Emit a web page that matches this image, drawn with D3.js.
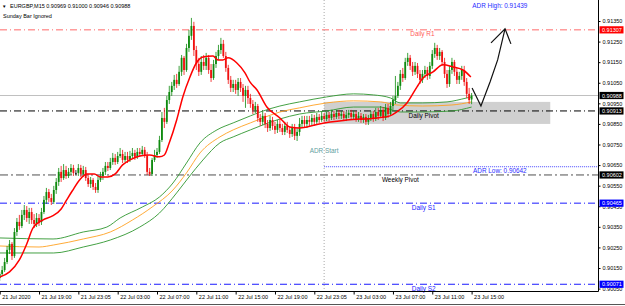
<!DOCTYPE html>
<html>
<head>
<meta charset="utf-8">
<script src="https://cdn.jsdelivr.net/npm/d3@7"></script>
<style>
  body { margin: 0; background: #fff; }
  svg { display: block; font-family: "Liberation Sans", Arial, sans-serif; }
</style>
</head>
<body>
<svg id="chart" width="625" height="306"></svg>
<script>
var symbol = "EURGBP,M15";
var note = "Sunday Bar Ignored";

// M15 bars, [open, high, low, close]
var candles = [
  [.90101,.90131,.90087,.90121],[.90121,.90160,.90111,.90140],[.90140,.90199,.90131,.90179],[.90179,.90257,.90169,.90238],
  [.90238,.90286,.90218,.90267],[.90267,.90276,.90189,.90208],[.90208,.90344,.90199,.90325],[.90325,.90393,.90306,.90374],
  [.90374,.90408,.90335,.90354],[.90354,.90432,.90344,.90408],[.90408,.90456,.90383,.90432],[.90432,.90451,.90374,.90393],
  [.90393,.90442,.90364,.90422],[.90422,.90442,.90364,.90383],[.90383,.90412,.90344,.90364],[.90364,.90417,.90349,.90393],
  [.90393,.90412,.90354,.90374],[.90374,.90442,.90359,.90422],[.90422,.90500,.90412,.90481],[.90481,.90539,.90461,.90519],
  [.90519,.90534,.90471,.90490],[.90490,.90510,.90456,.90471],[.90471,.90549,.90461,.90529],[.90529,.90587,.90510,.90568],
  [.90568,.90636,.90549,.90617],[.90617,.90646,.90568,.90587],[.90587,.90655,.90578,.90626],[.90626,.90646,.90583,.90597],
  [.90597,.90636,.90587,.90617],[.90617,.90655,.90602,.90636],[.90636,.90651,.90597,.90612],[.90612,.90626,.90602,.90612],
  [.90612,.90655,.90597,.90636],[.90636,.90651,.90592,.90607],[.90607,.90646,.90592,.90626],[.90626,.90641,.90573,.90587],
  [.90587,.90607,.90544,.90558],[.90558,.90592,.90539,.90578],[.90578,.90587,.90529,.90544],[.90544,.90563,.90515,.90529],
  [.90529,.90597,.90515,.90578],[.90578,.90617,.90568,.90597],[.90597,.90636,.90578,.90617],[.90617,.90665,.90602,.90646],
  [.90646,.90665,.90621,.90636],[.90636,.90685,.90626,.90665],[.90665,.90709,.90651,.90685],[.90685,.90704,.90651,.90665],
  [.90665,.90714,.90655,.90694],[.90694,.90733,.90685,.90704],[.90704,.90724,.90660,.90675],[.90675,.90714,.90665,.90694],
  [.90694,.90714,.90660,.90675],[.90675,.90719,.90665,.90694],[.90694,.90733,.90680,.90709],[.90709,.90724,.90675,.90690],
  [.90690,.90733,.90680,.90714],[.90714,.90733,.90690,.90704],[.90704,.90743,.90694,.90724],[.90724,.90738,.90685,.90694],
  [.90694,.90714,.90602,.90617],[.90617,.90636,.90597,.90607],[.90607,.90685,.90597,.90675],[.90675,.90724,.90665,.90699],
  [.90699,.90733,.90685,.90714],[.90714,.90792,.90704,.90772],[.90772,.90908,.90762,.90879],[.90879,.90928,.90830,.90860],
  [.90860,.90986,.90850,.90966],[.90966,.91035,.90947,.91005],[.91005,.91054,.90986,.91035],[.91035,.91088,.91015,.91064],
  [.91064,.91093,.91025,.91044],[.91044,.91132,.91035,.91103],[.91103,.91185,.91083,.91171],[.91171,.91180,.91088,.91112],
  [.91112,.91239,.91103,.91219],[.91219,.91307,.91200,.91278],[.91278,.91365,.91258,.91326],[.91326,.91346,.91180,.91209],
  [.91209,.91229,.91112,.91141],[.91141,.91171,.91083,.91103],[.91103,.91180,.91088,.91151],[.91151,.91185,.91112,.91132],
  [.91132,.91195,.91112,.91171],[.91171,.91185,.91093,.91112],[.91112,.91141,.91054,.91073],[.91073,.91161,.91064,.91141],
  [.91141,.91200,.91122,.91180],[.91180,.91234,.91161,.91209],[.91209,.91268,.91190,.91239],[.91239,.91258,.91171,.91180],
  [.91180,.91200,.91103,.91122],[.91122,.91137,.91044,.91064],[.91064,.91083,.91005,.91025],[.91025,.91064,.91005,.91044],
  [.91044,.91064,.90996,.91015],[.91015,.91073,.90986,.91054],[.91054,.91073,.91005,.91025],[.91025,.91044,.90957,.90986],
  [.90986,.91035,.90928,.91015],[.91015,.91035,.90947,.90976],[.90976,.90996,.90928,.90947],[.90947,.90966,.90898,.90918],
  [.90918,.90957,.90903,.90937],[.90937,.90947,.90860,.90879],[.90879,.90898,.90840,.90860],[.90860,.90908,.90845,.90889],
  [.90889,.90903,.90830,.90850],[.90850,.90869,.90811,.90830],[.90830,.90889,.90816,.90869],[.90869,.90884,.90821,.90840],
  [.90840,.90860,.90801,.90821],[.90821,.90869,.90806,.90850],[.90850,.90874,.90811,.90830],[.90830,.90850,.90796,.90811],
  [.90811,.90860,.90796,.90840],[.90840,.90860,.90806,.90821],[.90821,.90835,.90782,.90801],[.90801,.90850,.90787,.90830],
  [.90830,.90850,.90772,.90792],[.90792,.90830,.90767,.90811],[.90811,.90879,.90792,.90850],[.90850,.90889,.90835,.90869],
  [.90869,.90889,.90835,.90850],[.90850,.90889,.90830,.90869],[.90869,.90889,.90840,.90860],[.90860,.90898,.90845,.90879],
  [.90879,.90894,.90840,.90860],[.90860,.90903,.90850,.90884],[.90884,.90898,.90855,.90869],[.90869,.90908,.90860,.90889],
  [.90889,.90903,.90860,.90874],[.90874,.90908,.90864,.90894],[.90894,.90908,.90864,.90879],[.90879,.90918,.90869,.90898],
  [.90898,.90913,.90869,.90884],[.90884,.90918,.90874,.90903],[.90903,.90918,.90874,.90889],[.90889,.90913,.90874,.90898],
  [.90898,.90913,.90864,.90879],[.90879,.90908,.90864,.90894],[.90894,.90918,.90879,.90903],[.90903,.90918,.90869,.90884],
  [.90884,.90913,.90869,.90898],[.90898,.90913,.90860,.90874],[.90874,.90908,.90860,.90889],[.90889,.90903,.90855,.90869],
  [.90869,.90898,.90855,.90884],[.90884,.90898,.90845,.90860],[.90860,.90894,.90845,.90879],[.90879,.90913,.90864,.90898],
  [.90898,.90913,.90860,.90874],[.90874,.90928,.90864,.90908],[.90908,.90928,.90869,.90889],[.90889,.90937,.90879,.90918],
  [.90918,.90932,.90864,.90879],[.90879,.90947,.90869,.90928],[.90928,.90947,.90879,.90898],[.90898,.90957,.90889,.90937],
  [.90937,.90986,.90918,.90966],[.90966,.91083,.90947,.90986],[.90986,.91054,.90976,.91035],[.91035,.91112,.91015,.91093],
  [.91093,.91122,.91054,.91073],[.91073,.91171,.91064,.91151],[.91151,.91195,.91132,.91171],[.91171,.91185,.91112,.91132],
  [.91132,.91151,.91083,.91103],[.91103,.91151,.91088,.91132],[.91132,.91146,.91073,.91093],[.91093,.91112,.91044,.91064],
  [.91064,.91112,.91049,.91093],[.91093,.91132,.91073,.91112],[.91112,.91127,.91064,.91083],[.91083,.91151,.91069,.91132],
  [.91132,.91209,.91117,.91190],[.91190,.91244,.91171,.91219],[.91219,.91234,.91161,.91180],[.91180,.91219,.91161,.91200],
  [.91200,.91209,.91132,.91151],[.91151,.91171,.91073,.91093],[.91093,.91112,.91025,.91044],[.91044,.91132,.91030,.91112],
  [.91112,.91171,.91093,.91151],[.91151,.91161,.91083,.91103],[.91103,.91122,.91044,.91064],[.91064,.91103,.91044,.91083],
  [.91083,.91132,.91064,.91112],[.91112,.91132,.91035,.91054],[.91054,.91073,.90976,.90996],[.90996,.91025,.90947,.90966],
  [.90969,.91000,.90946,.90988]
];

// fast moving average (red), [bar, price]
var maFast = [[0,.90106],[4,.90131],[8,.90189],[11,.90267],[13.5,.90344],[17.5,.90383],[21.5,.90403],[25,.90437],
  [27,.90476],[29.5,.90524],[32.5,.90578],[35.5,.90607],[38.5,.90607],[41,.90592],[44,.90592],[47,.90607],[50,.90651],
  [53,.90675],[57,.90694],[61,.90699],[65,.90690],[67,.90699],[69,.90758],[72,.90869],[74.5,.90981],[77.4,.91078],
  [80,.91146],[82.7,.91175],[86.8,.91180],[88.8,.91161],[90.8,.91161],[92.9,.91171],[96.5,.91146],[99.8,.91098],
  [101.8,.91054],[104.7,.91015],[108.7,.90932],[114,.90879],[118,.90835],[122,.90830],[125,.90835],[130,.90850],
  [141.3,.90869],[153.5,.90879],[158.8,.90889],[161.6,.90908],[165.7,.90952],[169.8,.91030],[172.2,.91073],
  [176.3,.91103],[180.3,.91137],[184.4,.91127],[188.5,.91112],[191.7,.91078]];

// slow average band: upper / middle / lower
var bandUpper = [[0,.90296],[21.7,.90291],[34,.90325],[43.6,.90349],[49,.90393],[58,.90446],[65,.90495],[70.5,.90563],
  [76,.90660],[81.5,.90758],[88.4,.90821],[95,.90855],[102,.90889],[106,.90908],[114,.90937],[122,.90957],[133,.90981],
  [144,.90996],[152,.90991],[159,.90976],[163,.90952],[172,.90952],[182,.90957],[190,.90976],[192,.90981]];
var bandMid = [[0,.90257],[16,.90252],[22,.90262],[34,.90291],[45,.90325],[54,.90383],[62,.90446],[70.5,.90529],
  [76,.90612],[81.5,.90709],[89.6,.90787],[95,.90821],[102,.90855],[106,.90874],[114,.90908],[122,.90928],[133,.90952],
  [144,.90962],[155,.90957],[161.6,.90942],[172,.90937],[184,.90942],[192,.90957]];
var bandLower = [[0,.90223],[22,.90223],[34,.90252],[45,.90286],[57,.90349],[65,.90417],[72,.90515],[77,.90592],
  [82.7,.90675],[89.6,.90758],[95,.90787],[102,.90821],[106,.90840],[114,.90874],[122,.90898],[133,.90913],[144,.90932],
  [155,.90932],[163,.90908],[172,.90908],[184,.90913],[192,.90932]];

var timeLabels = [[0,"21 Jul 2020"],[16,"21 Jul 19:00"],[32,"21 Jul 23:05"],[48,"22 Jul 03:00"],[64,"22 Jul 07:00"],
  [80,"22 Jul 11:00"],[96,"22 Jul 15:00"],[112,"22 Jul 19:00"],[128,"22 Jul 23:05"],[144,"23 Jul 03:00"],
  [160,"23 Jul 07:00"],[176,"23 Jul 11:00"],[192,"23 Jul 15:00"]];
var priceTicks = [0.9005,0.9015,0.9025,0.9035,0.9045,0.9055,0.9065,0.9075,0.9085,0.9095,0.9105,0.9115,0.9125,0.9135];

var levels = [
  {name:"Daily R1", price:0.91307, kind:"res"},
  {name:"Daily Pivot", price:0.90913, kind:"piv"},
  {name:"Weekly Pivot", price:0.90602, kind:"wpiv"},
  {name:"Daily S1", price:0.90465, kind:"sup"},
  {name:"Daily S2", price:0.90071, kind:"sup"}
];
var adrHigh = 0.91439, adrLow = 0.90642, adrStartBar = 132;
var zoneBars = [132, 224], zonePrices = [0.90850, 0.90957];
// hand drawn arrow, [bar, price]
var arrowPts = [[192.2,.91025],[195.8,.90937],[199.5,.91054],[202.6,.91161],[205.6,.91312]];
var arrowHead = [[199.9,.91244],[205.6,.91312],[208,.91239]];

var svg = d3.select("#chart"),
    right = 598.5, bottom = 291.5,
    upCol = "#0f8a0f", dnCol = "#f01010";

var x = d3.scaleLinear().domain([0, candles.length - 1]).range([-0.3, 471.6]);
var y = d3.scaleLinear().domain([0.9015, 0.9135]).range([268, 21]);

var plot = svg.append("g");
plot.append("clipPath").attr("id", "clip")
  .append("rect").attr("width", right).attr("height", bottom);
var clip = plot.append("g").attr("clip-path", "url(#clip)");

// grey zone
clip.append("rect")
  .attr("x", x(zoneBars[0])).attr("width", x(zoneBars[1]) - x(zoneBars[0]))
  .attr("y", y(zonePrices[1])).attr("height", y(zonePrices[0]) - y(zonePrices[1]))
  .attr("fill", "#d0d0d0");

// bid line
clip.append("line").attr("x1", 0).attr("x2", right)
  .attr("y1", y(candles[candles.length - 1][3])).attr("y2", y(candles[candles.length - 1][3]))
  .attr("stroke", "#c0c0c0").attr("stroke-width", 1);

var lvlColor = {res: "#ff6a6a", piv: "#000", wpiv: "#505050", sup: "#1a1aff"};
clip.selectAll(".lvl").data(levels).enter().append("line")
  .attr("x1", 0).attr("x2", right)
  .attr("y1", d => y(d.price)).attr("y2", d => y(d.price))
  .attr("stroke", d => lvlColor[d.kind]).attr("stroke-width", 1)
  .attr("stroke-dasharray", d => d.kind == "wpiv" ? "8,3,2,3" : "7,3,1,3");

// ADR
clip.append("line").attr("x1", x(adrStartBar)).attr("x2", right)
  .attr("y1", y(adrLow)).attr("y2", y(adrLow))
  .attr("stroke", "#4848ff").attr("stroke-dasharray", "1,1");
clip.append("line").attr("x1", x(adrStartBar)).attr("x2", x(adrStartBar))
  .attr("y1", 0).attr("y2", bottom)
  .attr("stroke", "#a8a8a8").attr("stroke-dasharray", "1,2");

// band + averages
function ln(pts) {
  return d3.line().x(d => x(d[0])).y(d => y(d[1])).curve(d3.curveMonotoneX)(pts);
}
clip.append("path").attr("d", ln(bandUpper)).attr("fill", "none").attr("stroke", "#2f962f").attr("stroke-width", 0.9);
clip.append("path").attr("d", ln(bandLower)).attr("fill", "none").attr("stroke", "#2f962f").attr("stroke-width", 0.9);
clip.append("path").attr("d", ln(bandMid)).attr("fill", "none").attr("stroke", "#ffa020").attr("stroke-width", 0.9);

// candles
var cg = clip.append("g");
cg.selectAll(".wick").data(candles).enter().append("line")
  .attr("x1", (d, i) => x(i)).attr("x2", (d, i) => x(i))
  .attr("y1", d => y(d[1])).attr("y2", d => y(d[2]))
  .attr("stroke", d => d[3] > d[0] ? upCol : d[3] < d[0] ? dnCol : "#000")
  .attr("stroke-width", 0.8);
cg.selectAll(".body").data(candles).enter().append("rect")
  .attr("x", (d, i) => x(i) - 0.9).attr("width", 1.8)
  .attr("y", d => y(Math.max(d[0], d[3])))
  .attr("height", d => Math.max(0.8, Math.abs(y(d[0]) - y(d[3]))))
  .attr("fill", d => d[3] > d[0] ? upCol : d[3] < d[0] ? dnCol : "#000");

clip.append("path").attr("d", ln(maFast)).attr("fill", "none").attr("stroke", "#ff0000").attr("stroke-width", 1.5);

// arrow
var al = d3.line().x(d => x(d[0])).y(d => y(d[1]));
clip.append("path").attr("d", al(arrowPts)).attr("fill", "none").attr("stroke", "#111").attr("stroke-width", 1.2);
clip.append("path").attr("d", al(arrowHead)).attr("fill", "none").attr("stroke", "#111").attr("stroke-width", 1.2);

// labels
var lblFont = 6.4;
function label(txt, px, py, col) {
  svg.append("text").attr("x", px).attr("y", py).attr("text-anchor", "middle")
    .attr("font-size", lblFont).attr("fill", col).text(txt);
}
var labelBar = {res: 172, piv: 172.5, wpiv: 163, sup: 172.5};
levels.forEach(function(d) {
  var c = d.kind == "wpiv" ? "#000" : d.kind == "res" ? "#ff5a5a" : lvlColor[d.kind];
  label(d.name, x(labelBar[d.kind]), y(d.price) + 6.6, c);
});
label("ADR High: " + adrHigh.toFixed(5), x(203.5), 8, "#2a2aff");
label("ADR Low: " + adrLow.toFixed(5), x(203.5), y(adrLow) + 6.4, "#2a2aff");
label("ADR Start", x(adrStartBar), 153, "#5f9ea0");

// header
var last = candles[candles.length - 1];
svg.append("text").attr("x", 2).attr("y", 7.5).attr("font-size", 4.5).text("\u25BC");
svg.append("text").attr("x", 10).attr("y", 8).attr("font-size", 5.5)
  .text(symbol + "  " + last.map(v => v.toFixed(5)).join(" "));
svg.append("text").attr("x", 3).attr("y", 17.5).attr("font-size", 5.5).text(note);

// frame
svg.append("line").attr("x1", right).attr("x2", right).attr("y1", 0).attr("y2", bottom).attr("stroke", "#000");
svg.append("line").attr("x1", 0).attr("x2", right).attr("y1", bottom).attr("y2", bottom).attr("stroke", "#000");

// axes
var ya = svg.append("g").attr("transform", "translate(" + right + ",0)")
  .call(d3.axisRight(y).tickValues(priceTicks).tickFormat(d3.format(".5f")).tickSize(2).tickPadding(2));
ya.select(".domain").remove();
ya.selectAll("text").attr("font-size", 5.5).attr("fill", "#000").attr("font-family", null);

var xa = svg.append("g").attr("transform", "translate(0," + bottom + ")")
  .call(d3.axisBottom(x).tickValues(timeLabels.map(d => d[0]))
    .tickFormat((d, i) => timeLabels[i][1]).tickSize(3).tickPadding(1));
xa.select(".domain").remove();
xa.selectAll("text").attr("font-size", 5.5).attr("fill", "#000").attr("font-family", null)
  .attr("text-anchor", "start").attr("dx", 2);

// price tags on the right
var tags = levels.map(d => ({price: d.price, col: d.kind == "res" ? "#ff0000" : d.kind == "sup" ? "#0000ff" : "#000"}));
tags.push({price: last[3], col: "#000"});
var tg = svg.selectAll(".tag").data(tags).enter().append("g")
  .attr("transform", d => "translate(599.5," + y(d.price) + ")");
tg.append("rect").attr("x", 0).attr("y", -3.6).attr("width", 24).attr("height", 7.2).attr("fill", d => d.col);
tg.append("text").attr("x", 2.5).attr("y", 2).attr("font-size", 5.5).attr("fill", "#fff")
  .text(d => d.price.toFixed(5));

// bottom tab bar
svg.append("line").attr("x1", 0).attr("x2", 625).attr("y1", 304.5).attr("y2", 304.5).attr("stroke", "#555");
</script>
</body>
</html>
